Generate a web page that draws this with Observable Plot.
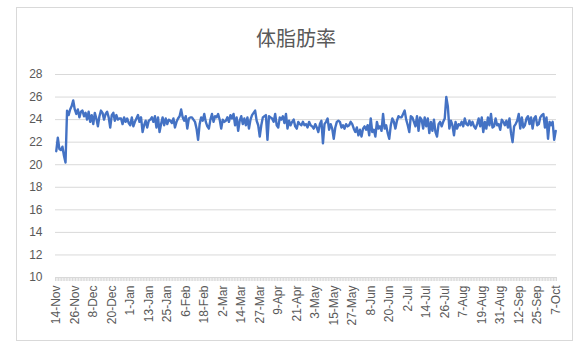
<!DOCTYPE html>
<html>
<head>
<meta charset="utf-8">
<script src="https://cdn.jsdelivr.net/npm/d3@7"></script>
<script src="https://cdn.jsdelivr.net/npm/@observablehq/plot@0.6"></script>
<style>
  html, body { margin: 0; padding: 0; background: #fff; }
  #wrap { position: relative; width: 586px; height: 352px; overflow: hidden; }
  #frame { position: absolute; left: 16px; top: 7px; width: 555px; height: 332px; border: 1px solid #d9d9d9; pointer-events: none; }
  #title { height: 56px; box-sizing: border-box; padding-top: 26px; text-align: center; font-family: "Noto Sans CJK JP", "Noto Sans", sans-serif; font-size: 20px; line-height: 24px; color: #595959; padding-left: 6px; }
</style>
</head>
<body>
<div id="wrap">
  <div id="frame"></div>
  <div id="title">体脂肪率</div>
  <div id="chart"></div>
</div>
<script>
const title = "体脂肪率";
const xLabels = ["14-Nov","26-Nov","8-Dec","20-Dec","1-Jan","13-Jan","25-Jan","6-Feb","18-Feb","2-Mar","14-Mar","27-Mar","9-Apr","21-Apr","3-May","15-May","27-May","8-Jun","20-Jun","2-Jul","14-Jul","26-Jul","7-Aug","19-Aug","31-Aug","12-Sep","25-Sep","7-Oct"];
const labelStep = 12;
const yTicks = [10,12,14,16,18,20,22,24,26,28];
const bodyFat = [
21.2,22.4,21.4,21.3,21.6,20.8,20.2,24.8,24.4,24.9,25.2,25.7,24.9,24.5,24.9,24.2,24.7,24.8,24.3,24.6,
24.0,24.7,23.8,24.4,23.6,24.6,24.1,23.4,24.3,24.8,24.6,24.0,24.5,24.7,24.2,23.3,24.4,24.6,23.9,24.4,24.0,
24.1,24.1,23.6,24.2,23.8,24.1,23.7,23.5,24.2,23.4,23.8,24.1,24.4,23.8,24.2,22.9,23.5,23.9,23.3,23.9,
24.0,24.2,23.8,24.3,23.3,24.2,22.9,23.6,24.2,23.5,24.1,23.6,24.0,23.9,23.7,24.1,23.3,23.8,24.1,24.3,
24.9,24.2,23.9,24.3,23.2,24.1,24.2,
24.2,24.0,23.8,23.2,22.2,23.6,24.2,23.9,24.5,23.8,23.4,23.2,24.0,24.5,23.8,24.3,24.2,24.5,24.0,23.2,
24.0,23.8,23.9,24.2,23.8,24.4,24.1,24.5,23.5,24.2,23.0,23.9,24.3,23.6,24.1,23.5,24.2,23.2,24.0,24.4,
24.6,24.8,23.9,23.5,22.5,23.5,24.2,24.3,
24.4,22.2,24.3,24.2,24.1,23.8,24.5,23.5,23.3,24.2,24.0,24.3,23.7,24.5,23.2,23.9,23.5,23.8,24.0,23.4,
23.2,23.8,23.6,23.5,23.8,23.5,23.6,23.3,23.8,23.5,23.4,23.2,23.6,23.3,22.9,23.6,23.9,21.9,23.6,23.8,
24.1,23.1,23.6,23.2,22.3,23.3,23.8,23.9,
23.8,23.3,23.5,23.2,23.6,23.4,23.5,23.8,23.6,23.2,22.9,23.3,22.6,23.1,22.5,23.2,23.4,23.1,23.5,22.6,
24.1,22.9,23.1,22.5,23.8,23.2,23.4,23.0,24.5,23.2,23.5,22.8,22.3,23.5,24.1,23.8,23.2,23.9,24.3,24.2,
24.2,24.5,24.8,24.0,23.5,22.9,24.3,
24.2,23.8,23.4,24.3,23.0,24.2,24.0,23.2,24.2,23.4,24.1,22.8,23.8,23.0,24.0,22.9,22.5,23.6,23.8,23.4,
23.8,24.1,26.0,25.2,23.2,23.9,23.5,22.6,23.8,23.2,23.6,23.5,23.8,23.4,24.1,23.6,23.5,23.9,23.5,23.8,
23.4,23.2,23.6,24.1,23.4,24.2,22.9,
23.8,23.2,24.2,23.5,24.5,23.3,23.4,24.1,23.5,23.6,23.1,24.0,23.8,23.5,23.9,23.3,24.1,22.8,22.0,23.4,
23.6,23.9,24.5,23.2,24.2,23.3,23.5,24.1,24.3,23.6,24.2,23.2,24.1,24.3,23.5,23.6,24.2,24.4,24.5,23.3,
24.2,22.3,23.8,23.5,23.8,22.2,23.0
];

const N = bodyFat.length;
const labelIdx = xLabels.map((d, i) => i * labelStep);
const boundaries = d3.range(N + 1).map(i => i - 0.5);
const grey = "#595959";
const gridColor = "#d9d9d9";

const chart = Plot.plot({
  width: 586,
  height: 296,
  marginTop: 18,
  marginBottom: 75,
  marginLeft: 55,
  marginRight: 30,
  style: { fontFamily: "'Liberation Sans', Arial, sans-serif", color: grey, background: "transparent", overflow: "visible" },
  x: { type: "linear", domain: [-0.5, N - 0.5] },
  y: { domain: [10, 28] },
  marks: [
    Plot.gridY(yTicks, { stroke: gridColor, strokeOpacity: 1, strokeWidth: 1 }),
    Plot.ruleX(boundaries, { x: d => d, y1: 10, y2: 10, insetBottom: -4, stroke: gridColor, strokeWidth: 1 }),
    Plot.axisY({ ticks: yTicks, tickSize: 0, tickPadding: 13, fontSize: 12, fill: grey, label: null }),
    Plot.axisX({ ticks: labelIdx, tickSize: 0, tickPadding: 8, tickRotate: -90, fontSize: 12, fill: grey, label: null,
                 tickFormat: d => xLabels[Math.round(d / labelStep)] }),
    Plot.line(bodyFat, { x: (d, i) => i, y: d => d, stroke: "#4472C4", strokeWidth: 2.4, strokeLinejoin: "round", strokeLinecap: "round" })
  ]
});
document.getElementById("chart").appendChild(chart);
</script>
</body>
</html>
